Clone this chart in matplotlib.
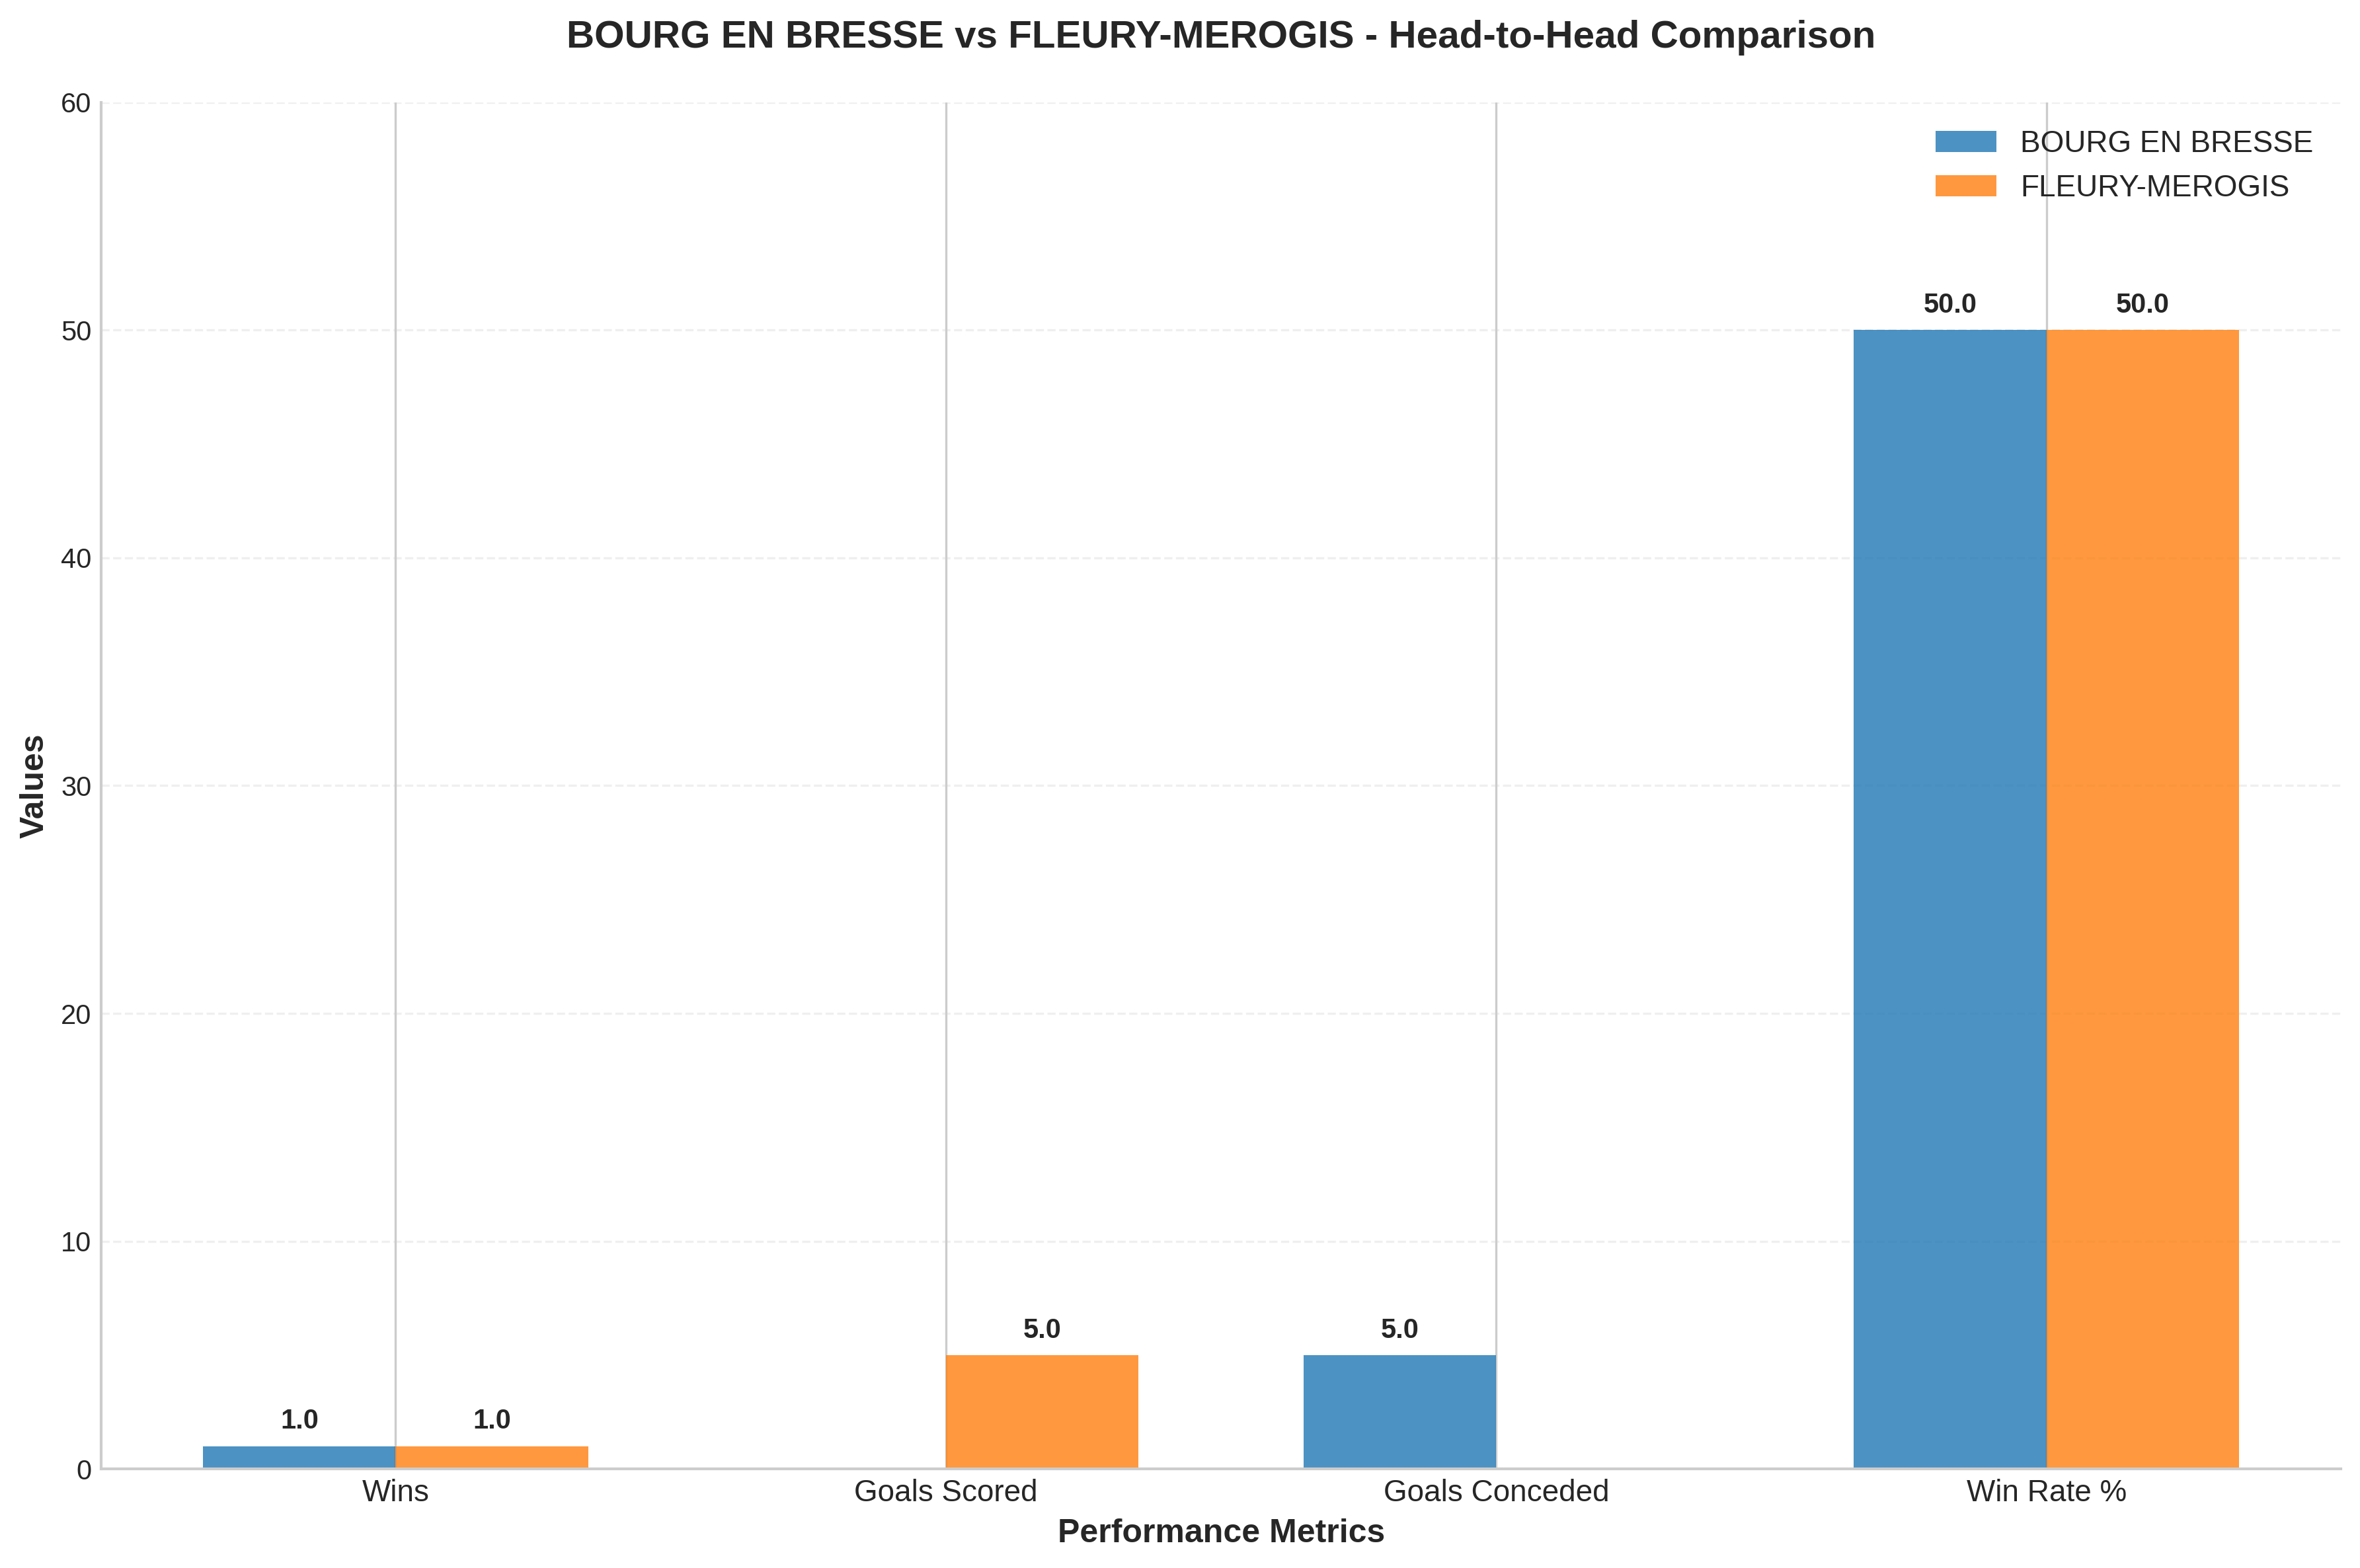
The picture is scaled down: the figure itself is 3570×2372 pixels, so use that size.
import numpy as np
import matplotlib
matplotlib.use("Agg")
import matplotlib.pyplot as plt

# head-to-head numbers
metrics = ['Wins', 'Goals Scored', 'Goals Conceded', 'Win Rate %']
team1 = 'BOURG EN BRESSE'
team2 = 'FLEURY-MEROGIS'
team1_vals = [1.0, 0.0, 5.0, 50.0]
team2_vals = [1.0, 5.0, 0.0, 50.0]

plt.style.use('seaborn-v0_8-whitegrid')
plt.rcParams['font.family'] = ['Liberation Sans', 'DejaVu Sans']

fig = plt.figure(figsize=(11.9, 7.9067), dpi=300)
ax = fig.add_axes([0.0429, 0.0632, 0.9490, 0.8715])

x = np.arange(len(metrics))
width = 0.35

bars1 = ax.bar(x - width/2, team1_vals, width, label=team1, color='#1f77b4', alpha=0.8)
bars2 = ax.bar(x + width/2, team2_vals, width, label=team2, color='#ff7f0e', alpha=0.8)

# value labels, skip the empty bars
for bars in (bars1, bars2):
    for b in bars:
        h = b.get_height()
        if h > 0:
            ax.text(b.get_x() + b.get_width()/2, h + 0.5, f'{h:.1f}',
                    ha='center', va='bottom', fontsize=10, fontweight='bold',
                    color='#262626')

ax.set_xticks(x)
ax.set_xticklabels(metrics, fontsize=11)
ax.tick_params(axis='y', labelsize=10)
ax.set_ylim(0, 60)
ax.set_xlabel('Performance Metrics', fontsize=12, fontweight='bold')
ax.set_ylabel('Values', fontsize=12, fontweight='bold')
ax.set_title(f'{team1} vs {team2} - Head-to-Head Comparison',
             fontsize=14, fontweight='bold', pad=20)

ax.grid(axis='y', linestyle='--', alpha=0.3)
ax.spines['top'].set_visible(False)
ax.spines['right'].set_visible(False)
ax.legend(fontsize=11, loc='upper right')

fig.savefig('out.png', dpi=300)
